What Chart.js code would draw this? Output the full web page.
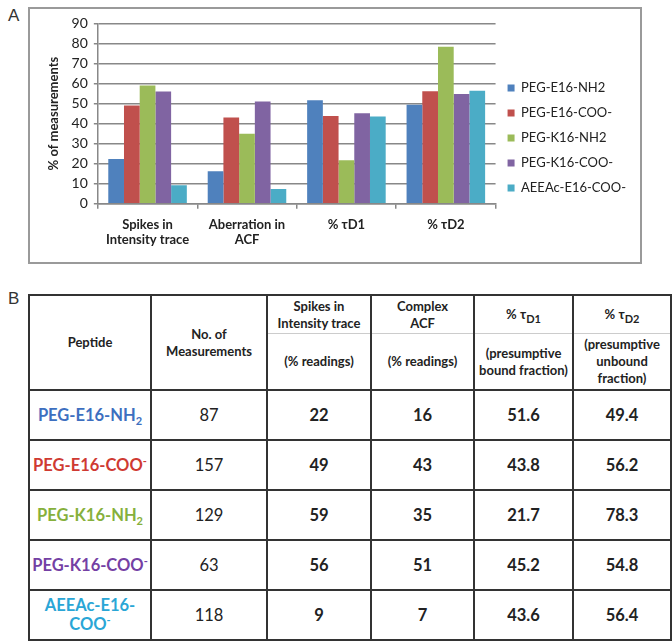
<!DOCTYPE html>
<html>
<head>
<meta charset="utf-8">
<script src="https://cdn.jsdelivr.net/npm/chart.js@4.4.1/dist/chart.umd.min.js"></script>
<style>
  body { margin: 0; background: #fff; font-family: Lato, "Open Sans", sans-serif; }
  .letra { position: absolute; font-family: "Liberation Sans", Arial, sans-serif; font-size: 17px; color: #333; }
  #caixaA { position: absolute; left: 28px; top: 7px; width: 610px; height: 253px; border: 2px solid #9a9a9a; }
  #graficoA { position: absolute; left: 0; top: 0; }
  #tabela { position: absolute; left: 28px; top: 294px; width: 642px; border-collapse: collapse; table-layout: fixed; }
  #tabela td, #tabela th { border: 2px solid #333; text-align: center; padding: 0; color: #222; }
  #tabela th { font-size: 13px; font-weight: 700; line-height: 17px; }
  #tabela th.topo { border-bottom: 1px solid #ccc; height: 37px; }
  #tabela th.sub { border-top: 1px solid #ccc; height: 55px; }
  #tabela td { font-size: 16.5px; height: 48px; }
  #tabela td.nome { font-weight: 700; line-height: 19px; }
  #tabela td.forte { font-weight: 700; }
  sub, sup { font-size: 11px; line-height: 0; }
</style>
</head>
<body>
<div class="letra" style="left:8px;top:6px;">A</div>
<div id="caixaA"><canvas id="graficoA" width="610" height="253"></canvas></div>
<div class="letra" style="left:8px;top:289px;">B</div>
<table id="tabela">
  <colgroup>
    <col style="width:122px"><col style="width:116px"><col style="width:104px">
    <col style="width:103px"><col style="width:99px"><col style="width:98px">
  </colgroup>
  <thead>
    <tr>
      <th rowspan="2">Peptide</th>
      <th rowspan="2">No. of<br>Measurements</th>
      <th class="topo">Spikes in<br>Intensity trace</th>
      <th class="topo">Complex<br>ACF</th>
      <th class="topo">% τ<sub>D1</sub></th>
      <th class="topo">% τ<sub>D2</sub></th>
    </tr>
    <tr>
      <th class="sub">(% readings)</th>
      <th class="sub">(% readings)</th>
      <th class="sub">(presumptive<br>bound fraction)</th>
      <th class="sub">(presumptive<br>unbound<br>fraction)</th>
    </tr>
  </thead>
  <tbody id="corpoTabela"></tbody>
</table>

<script>
// ====== DADOS ======
const categorias = [["Spikes in", "Intensity trace"], ["Aberration in", "ACF"], "% τD1", "% τD2"];
const peptideos = ["PEG-E16-NH2", "PEG-E16-COO-", "PEG-K16-NH2", "PEG-K16-COO-", "AEEAc-E16-COO-"];
const pegE16NH2 = [22.4, 16.2, 51.6, 49.4];
const pegE16COO = [49, 43, 43.8, 56.2];
const pegK16NH2 = [59, 35, 21.7, 78.3];
const pegK16COO = [56, 51, 45.2, 54.8];
const aeeacE16COO = [9.2, 7.4, 43.6, 56.4];
const ticksY = [0, 10, 20, 30, 40, 50, 60, 70, 80, 90];

// tabela B
const nomesTabela = [
  "PEG-E16-NH<sub>2</sub>",
  "PEG-E16-COO<sup>-</sup>",
  "PEG-K16-NH<sub>2</sub>",
  "PEG-K16-COO<sup>-</sup>",
  "AEEAc-E16-<br>COO<sup>-</sup>"
];
const medicoes = [87, 157, 129, 63, 118];
const spikes = [22, 49, 59, 56, 9];
const acfComplexo = [16, 43, 35, 51, 7];
const tauD1 = ["51.6", "43.8", "21.7", "45.2", "43.6"];
const tauD2 = ["49.4", "56.2", "78.3", "54.8", "56.4"];

// CORES
const coresBarras = ["#4f81bd", "#c0504d", "#9bbb59", "#8064a2", "#4bacc6"];
const coresNomes = ["#3d6fc0", "#cf3a32", "#86b03c", "#7440a4", "#2aa6d6"];

// ====== GRÁFICO ======
const ctx = document.getElementById("graficoA").getContext("2d");
const series = [pegE16NH2, pegE16COO, pegK16NH2, pegK16COO, aeeacE16COO];
const fonte = "Lato, 'Open Sans', sans-serif";

new Chart(ctx, {
  type: "bar",
  data: {
    labels: categorias,
    datasets: series.map((s, i) => ({
      label: peptideos[i],
      data: s,
      backgroundColor: coresBarras[i],
      categoryPercentage: 0.79,
      barPercentage: 1
    }))
  },
  options: {
    responsive: false,
    animation: false,
    layout: { padding: { left: 16, top: 11, right: 4, bottom: 6 } },
    plugins: {
      tooltip: { enabled: false },
      legend: {
        position: "right",
        labels: {
          boxWidth: 7,
          boxHeight: 7,
          padding: 12,
          color: "#222",
          font: { family: fonte, size: 13 }
        }
      }
    },
    scales: {
      x: {
        grid: { display: true, drawOnChartArea: false, color: "#888", lineWidth: 1.5, tickLength: 5, offset: true },
        border: { color: "#888", width: 1.5 },
        ticks: { color: "#222", font: { family: fonte, size: 13, weight: "bold" }, maxRotation: 0, padding: 8 }
      },
      y: {
        min: 0,
        max: 90,
        afterBuildTicks: (eixo) => { eixo.ticks = ticksY.map(v => ({ value: v })); },
        grid: { color: "#888", lineWidth: 1.5, tickLength: 4 },
        border: { color: "#888", width: 1.5 },
        ticks: { color: "#222", font: { family: fonte, size: 14 }, padding: 6, autoSkip: false },
        title: {
          display: true,
          text: "% of measurements",
          color: "#222",
          font: { family: fonte, size: 13, weight: "bold" },
          padding: { top: 0, bottom: 4 }
        }
      }
    }
  }
});

// ====== TABELA ======
const corpoTabela = document.getElementById("corpoTabela");

peptideos.forEach((p, i) => {
  const tr = document.createElement("tr");
  tr.innerHTML = `
    <td class="nome" style="color:${coresNomes[i]}">${nomesTabela[i]}</td>
    <td>${medicoes[i]}</td>
    <td class="forte">${spikes[i]}</td>
    <td class="forte">${acfComplexo[i]}</td>
    <td class="forte">${tauD1[i]}</td>
    <td class="forte">${tauD2[i]}</td>
  `;
  corpoTabela.appendChild(tr);
});
</script>
</body>
</html>
